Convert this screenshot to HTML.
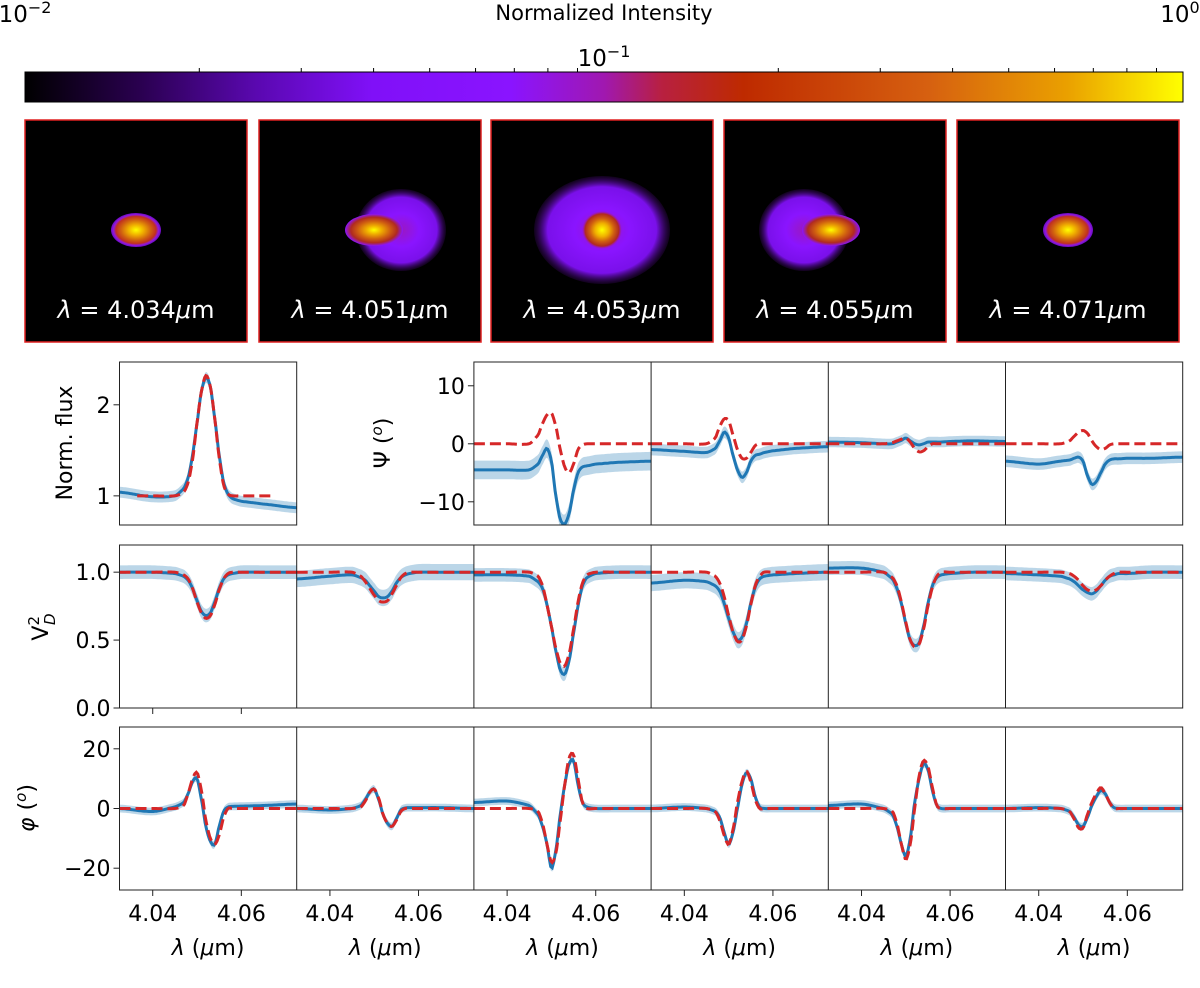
<!DOCTYPE html>
<html><head><meta charset="utf-8"><style>
body{margin:0;background:#fff;}
svg text{font-family:"DejaVu Sans","Liberation Sans",sans-serif;}
</style></head><body>
<svg id="fig" width="1200" height="983" viewBox="0 0 1200 983" xmlns="http://www.w3.org/2000/svg">
<defs>
<linearGradient id="cmap" x1="0" x2="1" y1="0" y2="0">
<stop offset="0" stop-color="#000000"/><stop offset="0.1" stop-color="#2a0050"/>
<stop offset="0.2" stop-color="#5a08b0"/><stop offset="0.3" stop-color="#8010f8"/>
<stop offset="0.42" stop-color="#8a14ff"/><stop offset="0.5" stop-color="#a018b0"/>
<stop offset="0.55" stop-color="#b82040"/><stop offset="0.62" stop-color="#be2a00"/>
<stop offset="0.78" stop-color="#d66010"/><stop offset="0.9" stop-color="#eaa000"/>
<stop offset="1" stop-color="#ffff00"/></linearGradient>
<radialGradient id="cloud"><stop offset="0" stop-color="#9a18c0"/><stop offset="0.4" stop-color="#8a14ff"/><stop offset="0.8" stop-color="#7a10ea"/><stop offset="1" stop-color="#3a0660" stop-opacity="0.3"/></radialGradient>
<radialGradient id="core"><stop offset="0" stop-color="#ffff00"/><stop offset="0.35" stop-color="#f0b000"/><stop offset="0.6" stop-color="#d06010"/><stop offset="0.85" stop-color="#b02a20"/><stop offset="1" stop-color="#a018b0" stop-opacity="0"/></radialGradient>
<radialGradient id="small"><stop offset="0" stop-color="#ffff00"/><stop offset="0.3" stop-color="#f0b000"/><stop offset="0.6" stop-color="#d06010"/><stop offset="0.8" stop-color="#c03020"/><stop offset="0.9" stop-color="#9018e0"/><stop offset="1" stop-color="#6a0cc0"/></radialGradient>
<radialGradient id="core2"><stop offset="0" stop-color="#ffff00"/><stop offset="0.25" stop-color="#f0b000"/><stop offset="0.55" stop-color="#d06010"/><stop offset="0.8" stop-color="#b02a20"/><stop offset="1" stop-color="#8a14ff"/></radialGradient>
</defs>
<g id="cb">
<text x="604" y="20" font-size="21" text-anchor="middle">Normalized Intensity</text>
<rect x="25" y="72" width="1158" height="30" fill="url(#cmap)" stroke="#000" stroke-width="1"/>
<text x="25" y="22" font-size="23" text-anchor="middle">10<tspan dy="-9" font-size="16">−2</tspan></text>
<text x="604" y="66" font-size="23" text-anchor="middle">10<tspan dy="-9" font-size="16">−1</tspan></text>
<text x="1180" y="22" font-size="23" text-anchor="middle">10<tspan dy="-9" font-size="16">0</tspan></text>
</g>
<g id="imgs"></g>
<g id="plots"></g>
</svg>
<script>
// ---------------- data ----------------
const wl = [4.0325,4.040,4.045,4.047,4.048,4.049,4.050,4.051,4.052,4.053,4.054,4.055,4.056,4.057,4.058,4.060,4.065,4.0725];
const imageWl = ["4.034","4.051","4.053","4.055","4.071"];
const fluxBlue = [1.04,0.99,1.0,1.08,1.2,1.45,1.8,2.15,2.3,2.2,1.85,1.45,1.15,1.02,0.97,0.94,0.91,0.87];
const fluxRed  = [1.0,1.0,1.0,1.04,1.15,1.4,1.8,2.15,2.32,2.2,1.85,1.42,1.12,1.02,1.0,1.0,1.0,1.0];
const psiBlue = [
 [-4.5,-4.5,-4.5,-3.5,-2,-0.8,-3,-9,-13,-13.8,-12,-8,-5,-4,-3.8,-3.5,-3.2,-3],
 [-1,-1.3,-1.5,-0.8,0.5,2,1,-2,-4.5,-5.8,-5,-3,-2,-1.8,-1.5,-1.2,-0.8,-0.5],
 [0.3,0.2,0,0,0.3,0.6,1,0.5,0,-0.2,0,0.3,0.3,0.3,0.3,0.4,0.5,0.4],
 [-3,-3.5,-3,-2.8,-2.5,-2.3,-3,-5.5,-7,-6.5,-5,-3.5,-2.8,-2.6,-2.6,-2.5,-2.5,-2.3]];
const psiRed = [
 [0,0,0,1.5,3.5,5,5.3,3,-1,-4,-5,-3.5,-1,-0.2,0,0,0,0],
 [0,0,0,1,3,4.3,4,1.5,-1,-2.5,-2.5,-1.5,-0.3,0,0,0,0,0],
 [0,0,0,0.2,0.5,0.8,1,0.3,-0.8,-1.4,-1.2,-0.5,0,0,0,0,0,0],
 [0,0,0,0.5,1.3,2,2.3,1.8,0.5,-0.5,-1,-0.8,-0.2,0,0,0,0,0]];
const psiErr = [1.6,1.0,0.9,1.0];
const v2Blue = [
 [1,1,0.99,0.97,0.94,0.88,0.79,0.71,0.68,0.7,0.78,0.88,0.95,0.98,0.99,1,1,1],
 [0.95,0.97,0.98,0.96,0.94,0.9,0.86,0.82,0.81,0.82,0.86,0.92,0.96,0.98,0.99,1,1,1],
 [0.98,0.98,0.97,0.93,0.88,0.76,0.6,0.42,0.28,0.25,0.35,0.55,0.75,0.9,0.96,0.99,1,1],
 [0.92,0.94,0.93,0.9,0.86,0.77,0.66,0.56,0.5,0.52,0.62,0.77,0.89,0.95,0.97,0.98,0.99,1.0],
 [1.03,1.03,1.0,0.95,0.88,0.77,0.62,0.5,0.46,0.48,0.6,0.77,0.9,0.96,0.98,0.99,1,1],
 [0.99,0.98,0.97,0.95,0.93,0.9,0.87,0.85,0.84,0.86,0.9,0.94,0.97,0.98,0.99,0.99,1,1]];
const v2Red = [
 [1,1,1,0.98,0.95,0.88,0.78,0.7,0.66,0.68,0.76,0.87,0.95,0.99,1,1,1,1],
 [1,1,1,0.97,0.93,0.88,0.83,0.79,0.78,0.79,0.84,0.9,0.96,0.99,1,1,1,1],
 [1,1,1,0.97,0.9,0.76,0.6,0.44,0.33,0.31,0.4,0.58,0.78,0.92,0.98,1,1,1],
 [1,1,1,0.97,0.92,0.82,0.68,0.56,0.49,0.5,0.6,0.76,0.9,0.97,1,1,1,1],
 [1,1,1,0.96,0.9,0.78,0.63,0.5,0.45,0.47,0.58,0.75,0.89,0.97,1,1,1,1],
 [1,1,1,0.99,0.97,0.94,0.9,0.87,0.86,0.87,0.9,0.94,0.97,0.99,1,1,1,1]];
const v2Err = [0.05,0.06,0.05,0.06,0.05,0.05];
const phiBlue = [
 [0,-1,0.5,2,5,9,10,3,-6,-11,-12,-6,-1,0.5,0.7,0.8,1,1.5],
 [0,-0.5,0,1,3,5.5,6.5,3,-2,-5,-6,-3.5,-0.5,0.2,0.3,0.3,0.3,0],
 [2,2.5,1,-2,-6,-12,-20,-14,-2,8,15,16,8,2,0.5,0,0,0],
 [0,0.5,0,-1,-3,-8,-12,-8,0,8,12,10,4,0.5,0,0,0,0],
 [1,1.5,0,-2,-6,-12,-16,-10,2,10,15,13,6,1,0,0,0,0],
 [0,0.3,0,-1,-3,-5.5,-6,-3,1,4,6,5,2,0.3,0,0,0,0]];
const phiRed = [
 [0,0,0,1,5,10,12,6,-4,-10,-12,-9,-3,0,0,0,0,0],
 [0,0,0,0.5,2.5,5.5,6.5,3.5,-2,-5,-6,-4,-1,0,0,0,0,0],
 [0,0,0,-1,-5,-12,-18,-15,-4,8,17,18,10,2,0,0,0,0],
 [0,0,0,-1,-4,-9,-12,-7,2,9,12.5,9,3,0,0,0,0,0],
 [0,0,0,-1,-5,-12,-17,-12,0,11,16,14,7,1,0,0,0,0],
 [0,0,0,-1,-3.5,-6.5,-6.5,-2,2,5,7,5,2,0,0,0,0,0]];
const phiErr = 1.3;
const xTicks = [4.04, 4.06];
const xTickLabels = ["4.04","4.06"];

// ---------------- helpers ----------------
const NS="http://www.w3.org/2000/svg";
const plots=document.getElementById('plots');
function mk(tag,attrs,parent){const e=document.createElementNS(NS,tag);for(const k in attrs)e.setAttribute(k,attrs[k]);(parent||plots).appendChild(e);return e;}
const XMIN=4.0325,XMAX=4.0725;
const edges=[119.5,296.7,473.9,651.1,828.3,1005.5,1182.7];
const FS=22;
function interp(xs,ys,x){
  let i=0;while(i<xs.length-2&&x>xs[i+1])i++;
  const x0=xs[i],x1=xs[i+1],t=(x-x0)/(x1-x0);
  const p0=ys[Math.max(i-1,0)],p1=ys[i],p2=ys[i+1],p3=ys[Math.min(i+2,ys.length-1)];
  const m1=(p2-p0)/2*0.9,m2=(p3-p1)/2*0.9;
  const t2=t*t,t3=t2*t;
  return (2*t3-3*t2+1)*p1+(t3-2*t2+t)*m1+(-2*t3+3*t2)*p2+(t3-t2)*m2;
}
function samples(ys,a,b){const out=[];for(let k=0;k<=120;k++){const x=a+(b-a)*k/120;out.push([x,interp(wl,ys,x)]);}return out;}
function scales(col,yTop,yBot,ymin,ymax){
  const x0=edges[col],x1=edges[col+1];
  return {sx:x=>x0+(x-XMIN)/(XMAX-XMIN)*(x1-x0), sy:y=>yBot-(y-ymin)/(ymax-ymin)*(yBot-yTop)};
}
function drawSeries(col,yTop,yBot,ymin,ymax,blue,red,err,redRange){
  const x0=edges[col],x1=edges[col+1];
  const {sx,sy}=scales(col,yTop,yBot,ymin,ymax);
  const g=mk('g',{'clip-path':'url(#clip'+col+'_'+yTop+')'});
  const cp=mk('clipPath',{id:'clip'+col+'_'+yTop});
  mk('rect',{x:x0,y:yTop,width:x1-x0,height:yBot-yTop},cp);
  const s=samples(blue,XMIN,XMAX);
  let d='M'+s.map(p=>sx(p[0]).toFixed(1)+','+sy(p[1]+err).toFixed(1)).join('L');
  d+='L'+s.slice().reverse().map(p=>sx(p[0]).toFixed(1)+','+sy(p[1]-err).toFixed(1)).join('L')+'Z';
  const band=mk('path',{d:d,fill:'#1f77b4','fill-opacity':0.3,stroke:'none'},g);
  
  
  const bl=mk('path',{d:'M'+s.map(p=>sx(p[0]).toFixed(1)+','+sy(p[1]).toFixed(1)).join('L'),fill:'none',stroke:'#1f77b4','stroke-width':3},g);
  
  
  const rr=redRange||[XMIN,XMAX];
  const r=samples(red,rr[0],rr[1]);
  const rl=mk('path',{d:'M'+r.map(p=>sx(p[0]).toFixed(1)+','+sy(p[1]).toFixed(1)).join('L'),fill:'none',stroke:'#d62728','stroke-width':3,'stroke-dasharray':'11,5'},g);
  
  
  return {sx,sy};
}
function frame(x0,y0,x1,y1){const r=mk('rect',{x:x0,y:y0,width:x1-x0,height:y1-y0,fill:'none',stroke:'#222','stroke-width':1});}
function vline(x,y0,y1){const l=mk('line',{x1:x,x2:x,y1:y0,y2:y1,stroke:'#222','stroke-width':1});}
function yticks(x,sy,vals,labels,name){vals.forEach((v,i)=>{mk('line',{x1:x-6,x2:x,y1:sy(v),y2:sy(v),stroke:'#222'});const t=mk('text',{x:x-9,y:sy(v)+8,'font-size':FS,'text-anchor':'end'});t.textContent=labels[i];});}
function ylabel(x,y,html,name){const t=mk('text',{x:x,y:y,'font-size':FS,'text-anchor':'middle',transform:'rotate(-90 '+x+' '+y+')'});t.innerHTML=html;}

// ---------------- images ----------------
const imgs=document.getElementById('imgs');
const imgX=[25,259,491,724,957];
imgX.forEach((x,i)=>{
  const g=mk('g',{},imgs);
  
  
  mk('rect',{x:x,y:120,width:222,height:222,fill:'#000',stroke:'#e02020','stroke-width':1.5},g);
  const cx=x+111,cy=230;
  if(i===0||i===4){mk('ellipse',{cx:cx,cy:cy,rx:25,ry:17,fill:'url(#small)'},g);}
  else if(i===2){mk('ellipse',{cx:cx,cy:cy,rx:68,ry:54,fill:'url(#cloud)'},g);mk('ellipse',{cx:cx,cy:cy,rx:20,ry:19,fill:'url(#core)'},g);}
  else{const dir=i===1?1:-1;mk('ellipse',{cx:cx+dir*31,cy:cy,rx:45,ry:41,fill:'url(#cloud)'},g);mk('ellipse',{cx:cx+dir*4,cy:cy,rx:29,ry:16,fill:'url(#core2)'},g);}
  const t=mk('text',{x:cx,y:318,'font-size':24,'text-anchor':'middle',fill:'#fff'},g);
  t.innerHTML='<tspan font-style="italic">λ</tspan> = '+imageWl[i]+'<tspan font-style="italic">μ</tspan>m';
  
  
});

// ---------------- flux ----------------
(function(){
  const a=drawSeries(0,362,525,0.68,2.47,fluxBlue,fluxRed,0.06,[4.0365,4.0675]);
  frame(edges[0],362,edges[1],525);
  yticks(edges[0],a.sy,[1,2],["1","2"],'flux-tick-label');
  ylabel(72,443,'Norm. flux','flux-axis-title');
})();
// ---------------- psi ----------------
(function(){
  let a;
  for(let p=0;p<4;p++){a=drawSeries(p+2,362,525,-14.0,14.1,psiBlue[p],psiRed[p],psiErr[p]);}
  frame(edges[2],362,edges[6],525);
  for(let p=3;p<6;p++)vline(edges[p],362,525);
  yticks(edges[2],a.sy,[10,0,-10],["10","0","−10"],'psi-tick-label');
  ylabel(390,443,'Ψ (<tspan font-style="italic" font-size="15" dy="-8">o</tspan><tspan dy="8">)</tspan>','psi-axis-title');
})();
// ---------------- V2 ----------------
(function(){
  for(let p=0;p<6;p++){drawSeries(p,545,708,0,1.2,v2Blue[p],v2Red[p],v2Err[p]);}
  const a=scales(0,545,708,0,1.2);
  frame(edges[0],545,edges[6],708);
  for(let p=1;p<6;p++)vline(edges[p],545,708);
  yticks(edges[0],a.sy,[0,0.5,1.0],["0.0","0.5","1.0"],'v2-tick-label');
  xTicks.forEach(v=>mk('line',{x1:a.sx(v),x2:a.sx(v),y1:708,y2:714,stroke:'#222'}));
  ylabel(48,627,'V<tspan dy="-9" font-size="15">2</tspan><tspan dx="-9" dy="16" font-size="15" font-style="italic">D</tspan>','v2-axis-title');
})();
// ---------------- phi ----------------
(function(){
  for(let p=0;p<6;p++){
    const a=drawSeries(p,727,890,-27.3,27.3,phiBlue[p],phiRed[p],phiErr);
    xTicks.forEach((v,i)=>{
      mk('line',{x1:a.sx(v),x2:a.sx(v),y1:890,y2:896,stroke:'#222'});
      const t=mk('text',{x:a.sx(v),y:921,'font-size':FS,'text-anchor':'middle'});
      t.textContent=xTickLabels[i];
      
      
    });
    const xl=mk('text',{x:(edges[p]+edges[p+1])/2,y:955,'font-size':FS,'text-anchor':'middle'});
    xl.innerHTML='<tspan font-style="italic">λ</tspan> (<tspan font-style="italic">μ</tspan>m)';
    
    
  }
  const a=scales(0,727,890,-27.3,27.3);
  frame(edges[0],727,edges[6],890);
  for(let p=1;p<6;p++)vline(edges[p],727,890);
  yticks(edges[0],a.sy,[20,0,-20],["20","0","−20"],'phi-tick-label');
  ylabel(34,808,'<tspan font-style="italic">φ</tspan> (<tspan font-style="italic" font-size="15" dy="-8">o</tspan><tspan dy="8">)</tspan>','phi-axis-title');
})();
// colorbar minor ticks
(function(){
  const cb=document.getElementById('cb');
  [2,3,4,5,6,7,8,9].forEach(m=>{[0,1].forEach(dec=>{
    const x=25+(dec+Math.log10(m))*579;
    const l=mk('line',{x1:x,x2:x,y1:72,y2:68,stroke:'#000'},cb);
    
    
  });});
})();
</script>
</body></html>
